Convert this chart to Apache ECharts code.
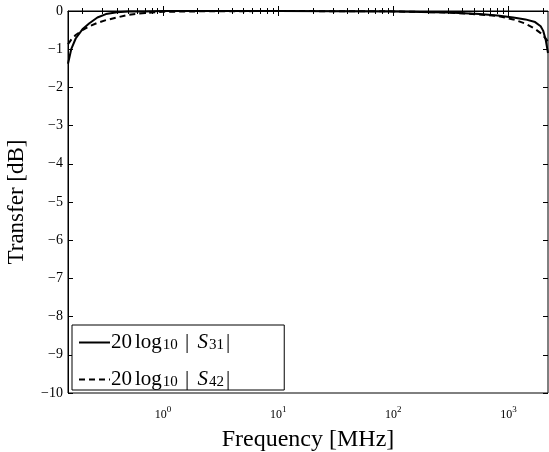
<!DOCTYPE html>
<html><head><meta charset="utf-8">
<script src="https://cdn.jsdelivr.net/npm/echarts@6/dist/echarts.min.js"></script>
<style>html,body{margin:0;padding:0;background:#fff}#c{width:549px;height:452px}</style>
</head><body><div id="c"></div>
<script>
const freqMHz = [0.15,0.16,0.175,0.2,0.23,0.27,0.32,0.4,0.5,0.7,1,2,10,100,300,560,800,1100,1400,1700,1900,2000,2100,2200];
const s31 = [-1.38,-1.0,-0.72,-0.48,-0.32,-0.17,-0.08,-0.03,-0.015,-0.01,0,0,0,-0.01,-0.04,-0.08,-0.12,-0.17,-0.22,-0.29,-0.4,-0.52,-0.75,-1.1];
const s42 = [-0.87,-0.75,-0.63,-0.5,-0.4,-0.31,-0.24,-0.17,-0.1,-0.05,-0.02,-0.01,0,-0.01,-0.04,-0.09,-0.13,-0.22,-0.33,-0.47,-0.58,-0.65,-0.72,-0.8];
const xMajor = [1,10,100,1000];
const xMinor = [0.2,0.3,0.4,0.5,0.6,0.7,0.8,0.9,2,3,4,5,6,7,8,9,20,30,40,50,60,70,80,90,200,300,400,500,600,700,800,900,2000];
const xLabelExp = {1:'0',10:'1',100:'2',1000:'3'};
const yMin = -10, yMax = 0, yStep = 1;
const names = ['S31','S42'];
const subs = {S31:'31',S42:'42'};

const FONT = 'Liberation Serif';
const chart = echarts.init(document.getElementById('c'));
const xBase = {type:'log', min:0.15, max:2200, logBase:10, splitLine:{show:false}, axisLabel:{show:false}, axisLine:{show:false}};
chart.setOption({
  animation:false,
  grid:{left:68,top:11,right:1,bottom:59,containLabel:false,outerBoundsMode:'none',show:true,borderColor:'#000',borderWidth:1,backgroundColor:'#fff'},
  xAxis:[
    Object.assign({}, xBase, {position:'bottom',
      axisLine:{show:true,lineStyle:{color:'#000',width:1}},
      axisTick:{show:true,inside:true,length:5,customValues:xMajor,lineStyle:{color:'#000'}},
      axisLabel:{show:true,customValues:xMajor,margin:12,color:'#000',
        formatter:v=>'{a|10}{b|'+xLabelExp[Math.round(v)]+'}',
        rich:{a:{fontFamily:FONT,fontSize:12,color:'#000',lineHeight:16,verticalAlign:'bottom'},
              b:{fontFamily:FONT,fontSize:9,color:'#000',lineHeight:16,verticalAlign:'top'}}},
      name:'Frequency [MHz]',nameLocation:'middle',nameGap:35,
      nameTextStyle:{fontFamily:FONT,fontSize:24,color:'#000'}}),
    Object.assign({}, xBase, {position:'bottom',
      axisTick:{show:true,inside:true,length:3,customValues:xMinor,lineStyle:{color:'#000'}}}),
    Object.assign({}, xBase, {position:'top',
      axisTick:{show:true,inside:true,length:5,customValues:xMajor,lineStyle:{color:'#000'}}}),
    Object.assign({}, xBase, {position:'top',
      axisTick:{show:true,inside:true,length:3,customValues:xMinor,lineStyle:{color:'#000'}}})
  ],
  yAxis:[
    {type:'value',min:yMin,max:yMax,interval:yStep,position:'left',splitLine:{show:false},
      axisLine:{show:true,lineStyle:{color:'#000'}},
      axisTick:{show:true,inside:true,length:5,lineStyle:{color:'#000'}},
      axisLabel:{color:'#000',fontFamily:FONT,fontSize:14,margin:5,formatter:v=>v<0?'\u2212'+(-v):String(v)},
      name:'Transfer [dB]',nameLocation:'middle',nameGap:40,nameRotate:90,
      nameTextStyle:{fontFamily:FONT,fontSize:23,color:'#000'}},
    {type:'value',min:yMin,max:yMax,interval:yStep,position:'right',splitLine:{show:false},
      axisLine:{show:false},axisLabel:{show:false},
      axisTick:{show:true,inside:true,length:5,lineStyle:{color:'#000'}}}
  ],
  legend:{left:72,top:325,orient:'vertical',backgroundColor:'#fff',borderColor:'#000',borderWidth:1,
    padding:[7,54,0,6],itemGap:16,itemWidth:31,itemHeight:20,
    itemStyle:{opacity:0},
    textStyle:{fontFamily:FONT,fontSize:21,color:'#000',padding:[0,0,0,-4],
      rich:{n:{fontFamily:FONT,fontSize:21,color:'#000',lineHeight:20,verticalAlign:'middle'},
        sp:{fontFamily:FONT,fontSize:21,color:'#000',lineHeight:20,verticalAlign:'middle',padding:[0,3,0,0]},
        sub:{fontFamily:FONT,fontSize:15,color:'#000',lineHeight:20,verticalAlign:'bottom',padding:[0,2,0,1]},
        it:{fontFamily:FONT,fontSize:21,fontStyle:'italic',color:'#000',lineHeight:20,verticalAlign:'middle'}}},
    formatter:n=>'{sp|20}{n|log}{sub|10}{n| |}{sp| }{it|S}{sub|'+subs[n]+'}{n||}',
    data:names},
  series:[
    {name:'S31',type:'line',showSymbol:false,symbol:'none',data:freqMHz.map((f,i)=>[f,s31[i]]),
      lineStyle:{color:'#000',width:2},itemStyle:{color:'#000'},z:3},
    {name:'S42',type:'line',showSymbol:false,symbol:'none',data:freqMHz.map((f,i)=>[f,s42[i]]),
      lineStyle:{color:'#000',width:2,type:[6,4]},itemStyle:{color:'#000'},z:2}
  ]
});
</script></body></html>
